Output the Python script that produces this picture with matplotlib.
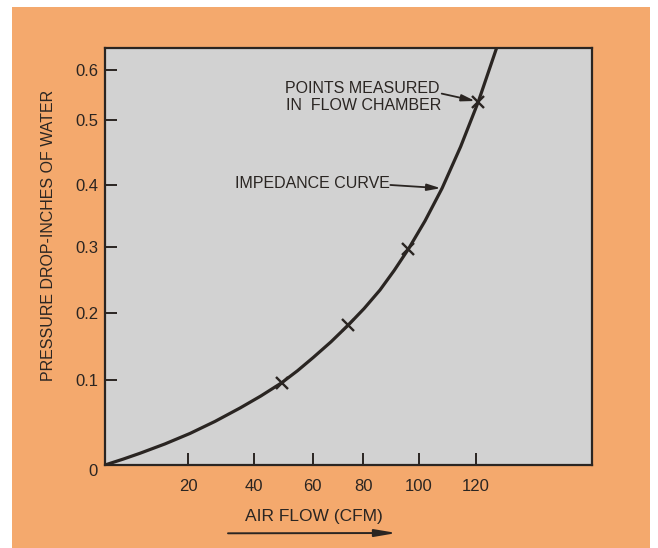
import numpy as np
import matplotlib
matplotlib.use("Agg")
import matplotlib.pyplot as plt
from matplotlib.patches import Rectangle
from matplotlib.ticker import NullLocator

# impedance curve (air flow in CFM, pressure drop in inches of water)
flow = [0, 4.4, 8.4, 14.4, 20.5, 28.1, 35.7, 42.2, 49.4, 54.8, 60.2, 67.2, 74.1, 80.3,
        86.0, 91.1, 96.2, 102.1, 108.1, 114.6, 120.8, 127.1]
pressure = [0, 0.007, 0.0138, 0.0248, 0.0371, 0.0513, 0.0671, 0.0811, 0.0968, 0.1139,
            0.1337, 0.1571, 0.1825, 0.2072, 0.235, 0.2644, 0.2965, 0.3417, 0.3947,
            0.4589, 0.5366, 0.644]

# points measured in flow chamber
meas_flow = [49.4, 74.1, 96.2, 120.8]
meas_pressure = [0.0968, 0.1825, 0.2965, 0.5366]

x_ticks = [20, 40, 60, 80, 100, 120]
x_ticklabels = ["20", "40", "60", "80", "100", "120"]
y_ticks = [0.1, 0.2, 0.3, 0.4, 0.5, 0.6]
y_ticklabels = ["0.1", "0.2", "0.3", "0.4", "0.5", "0.6"]

# hand drawn axes: tick values and where they sit on the paper (px)
x_knots = [0, 20, 40, 60, 80, 100, 120, 160]
x_paper = [0, 83.3, 149.3, 207.7, 258.3, 314, 371, 487]
y_knots = [0, 0.1, 0.2, 0.3, 0.4, 0.5, 0.6, 0.644]
y_paper = [0, 85, 151.7, 218.3, 280, 345, 395, 417]

orange = "#f4a96d"
grey = "#d2d2d2"
ink = "#2a2522"

plt.rcParams["font.family"] = ["Liberation Sans", "DejaVu Sans"]


def piecewise(knots, paper):
    def fwd(v):
        return np.interp(v, knots, paper)

    def inv(p):
        return np.interp(p, paper, knots)
    return fwd, inv


W, H = 658, 548
fig = plt.figure(figsize=(W / 100, H / 100), dpi=100)
fig.patch.set_facecolor("white")
fig.add_artist(Rectangle((12 / W, 0), (650 - 12) / W, (H - 7) / H, transform=fig.transFigure,
                         facecolor=orange, edgecolor="none", zorder=-10))

ax = fig.add_axes([105 / W, 1 - 465 / H, 487 / W, 417 / H])
ax.set_facecolor(grey)
ax.set_xscale("function", functions=piecewise(x_knots, x_paper))
ax.set_yscale("function", functions=piecewise(y_knots, y_paper))
ax.set_xlim(0, 160)
ax.set_ylim(0, 0.644)

ax.plot(flow, pressure, color=ink, lw=2.3, solid_joinstyle="round", solid_capstyle="round")
ax.plot(meas_flow, meas_pressure, ls="none", marker="x", ms=9, mew=1.7, color=ink)

ax.set_xticks(x_ticks)
ax.set_xticklabels(x_ticklabels)
ax.set_yticks(y_ticks)
ax.set_yticklabels(y_ticklabels)
ax.xaxis.set_minor_locator(NullLocator())
ax.yaxis.set_minor_locator(NullLocator())
ax.tick_params(axis="both", direction="in", length=8.5, width=1.4, color=ink,
               labelcolor=ink, labelsize=12)
ax.tick_params(axis="x", pad=10)
ax.tick_params(axis="y", pad=5)
for sp in ax.spines.values():
    sp.set_linewidth(1.6)
    sp.set_color(ink)

# annotations
ax.text(0.3696, 0.8928, "POINTS MEASURED", transform=ax.transAxes, fontsize=11.5,
        color=ink, va="baseline", ha="left")
ax.text(0.3717, 0.8513, "IN  FLOW CHAMBER", transform=ax.transAxes, fontsize=11.5,
        color=ink, va="baseline", ha="left")
ax.annotate("", xy=(meas_flow[3], meas_pressure[3]), xytext=(0.6914, 0.8906),
            textcoords="axes fraction",
            arrowprops=dict(arrowstyle="-|>,head_length=0.8,head_width=0.2", lw=1.3,
                            color=ink, shrinkA=0, shrinkB=2.4))
ax.text(0.2669, 0.6635, "IMPEDANCE CURVE", transform=ax.transAxes, fontsize=11.5,
        color=ink, va="baseline", ha="left")
ax.annotate("", xy=(flow[18], pressure[18]), xytext=(0.586, 0.6715),
            textcoords="axes fraction",
            arrowprops=dict(arrowstyle="-|>,head_length=0.8,head_width=0.2", lw=1.3,
                            color=ink, shrinkA=0, shrinkB=1))

# axis titles
fig.text(313.5 / W, 1 - 516.7 / H, "AIR FLOW (CFM)", fontsize=12.5, color=ink,
         ha="center", va="center")
fig.text(49 / W, 1 - 235 / H, "PRESSURE DROP-INCHES OF WATER", fontsize=11.5, color=ink,
         ha="center", va="center", rotation=90)
fig.text(93 / W, 1 - 472 / H, "0", fontsize=12, color=ink, ha="center", va="center")
ax.annotate("", xy=(396.7 / W, 1 - 533 / H), xytext=(228 / W, 1 - 533.3 / H),
            xycoords="figure fraction", textcoords="figure fraction",
            arrowprops=dict(arrowstyle="-|>,head_length=1.3,head_width=0.22", lw=1.4,
                            color=ink, shrinkA=0, shrinkB=0))

fig.savefig("out.png", dpi=100, facecolor=fig.get_facecolor())
